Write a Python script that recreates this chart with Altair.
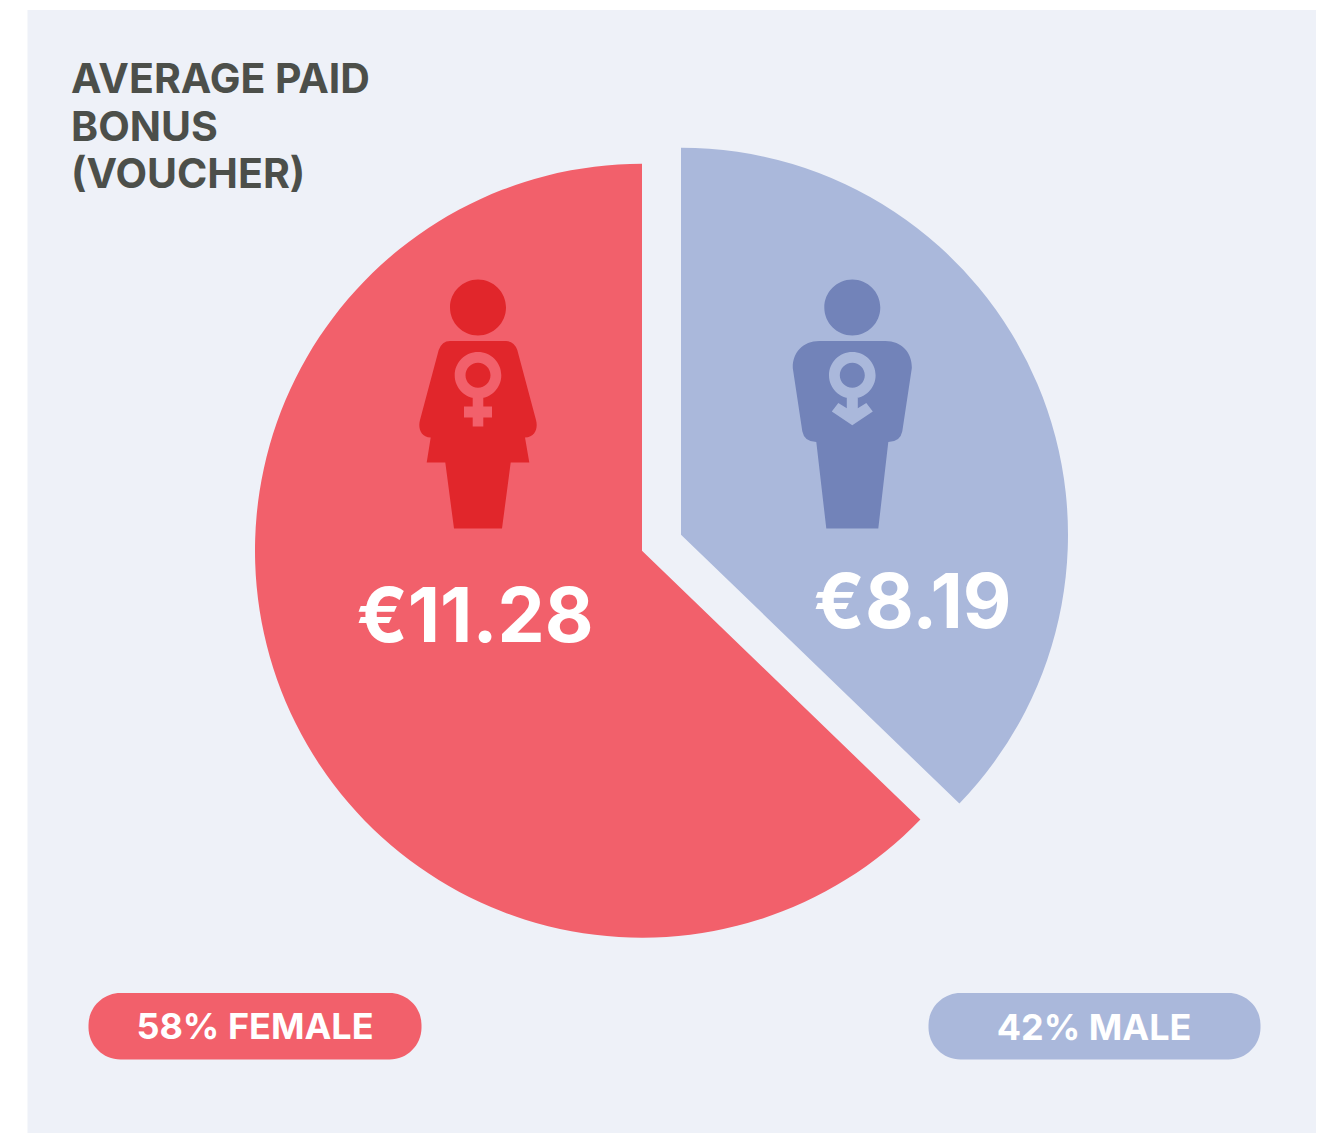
import altair as alt
import pandas as pd

W, H = 1319, 1125

# colours
PANEL = "#eef1f8"
RED, RED_DARK = "#f2606b", "#e1262b"
BLUE, BLUE_DARK = "#aab8db", "#7283b9"
TITLE = "#4c4f4a"
FONT = "Inter"

# pie wedges (degrees clockwise from 12 o'clock)
wedge_names = ["Male", "Female"]
wedge_start = [0, 134]
wedge_end = [134, 360]
wedge_cx = [681, 642]
wedge_cy = [534.7, 550.7]
wedge_colors = [BLUE, RED]

# value labels
value_labels = ["€11.28", "€8.19"]
value_x = [475, 912.5]
value_y = [642, 628]

# pills
pill_names = ["58% FEMALE", "42% MALE"]
pill_x0 = [88.5, 928.5]
pill_x1 = [421.5, 1260.5]
pill_y0 = [993, 993]
pill_y1 = [1059.5, 1059.5]
pill_colors = [RED, BLUE]
pill_text_x = [255, 1094]
pill_text_y = [1038.5, 1040]

# title
title_lines = ["AVERAGE PAID", "BONUS", "(VOUCHER)"]
title_x = [71, 71, 71]
title_y = [93, 140.5, 188]

X = alt.Scale(domain=[8, 8 + W], range=[0, W], nice=False, zero=False)
Y = alt.Scale(domain=[8, 8 + H], range=[0, H], nice=False, zero=False)


def xe(f):
    return alt.X(f, type="quantitative", scale=X, axis=None)


def ye(f):
    return alt.Y(f, type="quantitative", scale=Y, axis=None)


panel = alt.Chart(pd.DataFrame({"x0": [27.5], "x1": [1316], "y0": [10], "y1": [1133]})).mark_rect(
    color=PANEL, strokeWidth=0
).encode(x=xe("x0"), x2="x1", y=ye("y0"), y2="y1")

wedges = alt.Chart(
    pd.DataFrame(
        {"name": wedge_names, "a0": wedge_start, "a1": wedge_end, "cx": wedge_cx, "cy": wedge_cy, "c": wedge_colors}
    )
).mark_arc(radius=387, strokeWidth=0).encode(
    theta=alt.Theta("a0:Q", scale=alt.Scale(domain=[0, 360], range=[0, 6.283185307])),
    theta2="a1:Q",
    x=xe("cx"),
    y=ye("cy"),
    color=alt.Color("c:N", scale=None),
)

HEAD = "M-28 -67.7 A28 28 0 1 1 28 -67.7 A28 28 0 1 1 -28 -67.7 Z "
RING = (
    "M-23.3 0 A23.3 23.3 0 1 1 23.3 0 A23.3 23.3 0 1 1 -23.3 0 Z "
    "M-12.5 0 A12.5 12.5 0 1 0 12.5 0 A12.5 12.5 0 1 0 -12.5 0 Z "
)
FEMALE_BODY = HEAD + (
    "M-28 -34.3 L28 -34.3 Q36 -34.3 39.3 -25.3 L58 44.7 C60 52 58 62 47 62.3 L51.3 87.3 L32.7 87.3 "
    "L24 153.3 L-24 153.3 L-32.7 87.3 L-51.3 87.3 L-47.3 62.3 C-58 62 -60 52 -58 44.7 L-39.3 -25.3 "
    "Q-36 -34.3 -28 -34.3 Z"
)
MALE_BODY = HEAD + (
    "M-33 -34.3 L33 -34.3 C50 -34.3 60 -22 59.5 -7 L50 56 Q48 66.7 36 66.7 L26 153.3 L-26 153.3 "
    "L-36 66.7 Q-48 66.7 -50 56 L-59.5 -7 C-60 -22 -50 -34.3 -33 -34.3 Z"
)
FEMALE_SIGN = RING + (
    "M-5.3 20 L5.3 20 L5.3 31.3 L14 31.3 L14 42.3 L5.3 42.3 L5.3 51.3 L-5.3 51.3 L-5.3 42.3 "
    "L-14 42.3 L-14 31.3 L-5.3 31.3 Z"
)
MALE_SIGN = RING + (
    "M-5.5 20 L5.5 20 L5.5 33 L14 27.7 L20.5 36.3 L0 50 L-20.5 36.3 L-14 27.7 L-5.5 33 Z"
)

icon_specs = [
    (FEMALE_BODY, RED_DARK, 478, 375.3),
    (FEMALE_SIGN, RED, 478, 375.3),
    (MALE_BODY, BLUE_DARK, 852.3, 375.3),
    (MALE_SIGN, BLUE, 852.3, 375.3),
]
icons = [
    alt.Chart(pd.DataFrame({"x": [ix], "y": [iy]}))
    .mark_point(shape=p, size=4, filled=True, color=c, opacity=1, strokeWidth=0)
    .encode(x=xe("x"), y=ye("y"))
    for p, c, ix, iy in icon_specs
]

values = alt.Chart(pd.DataFrame({"t": value_labels, "x": value_x, "y": value_y})).mark_text(
    font=FONT, fontWeight="bold", fontSize=75, color="white", align="center", baseline="alphabetic"
).encode(x=xe("x"), y=ye("y"), text="t:N")

pills = alt.Chart(
    pd.DataFrame(
        {"x0": pill_x0, "x1": pill_x1, "y0": pill_y0, "y1": pill_y1, "c": pill_colors, "n": pill_names}
    )
).mark_rect(cornerRadius=32, strokeWidth=0).encode(
    x=xe("x0"), x2="x1", y=ye("y0"), y2="y1", color=alt.Color("c:N", scale=None)
)

pill_text = alt.Chart(pd.DataFrame({"t": pill_names, "x": pill_text_x, "y": pill_text_y})).mark_text(
    font=FONT, fontWeight="bold", fontSize=36, color="white", align="center", baseline="alphabetic"
).encode(x=xe("x"), y=ye("y"), text="t:N")

title = alt.Chart(pd.DataFrame({"t": title_lines, "x": title_x, "y": title_y})).mark_text(
    font=FONT, fontWeight="bold", fontSize=41, color=TITLE, align="left", baseline="alphabetic"
).encode(x=xe("x"), y=ye("y"), text="t:N")

chart = (
    alt.layer(panel, wedges, *icons, values, pills, pill_text, title)
    .properties(width=W, height=H, padding=0, background="white")
    .configure_view(stroke=None)
)

chart.save("out.html", embed_options={"renderer": "svg", "actions": False})
